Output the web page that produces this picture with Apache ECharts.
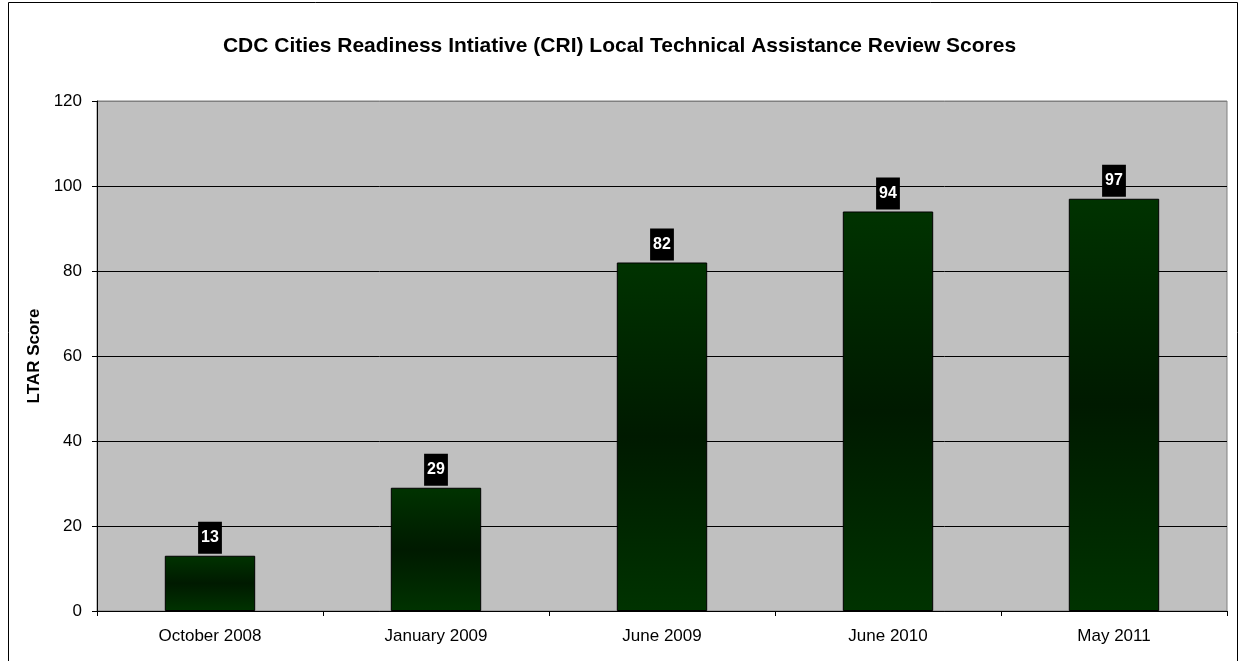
<!DOCTYPE html>
<html>
<head>
<meta charset="utf-8">
<script src="https://cdn.jsdelivr.net/npm/echarts@6/dist/echarts.min.js"></script>
<style>
  html, body { margin: 0; padding: 0; background: #fff; }
  #chart { width: 1239px; height: 661px; }
</style>
</head>
<body>
<div id="chart"></div>
<script>
// Review dates and the LTAR score recorded at each
const categories = ['October 2008', 'January 2009', 'June 2009', 'June 2010', 'May 2011'];
const scores = [13, 29, 82, 94, 97];
const yTicks = { min: 0, max: 120, interval: 20 };

const FONT = '"Liberation Sans", Arial, sans-serif';

const chart = echarts.init(document.getElementById('chart'), null, { renderer: 'canvas' });

chart.setOption({
  animation: false,
  backgroundColor: '#ffffff',
  textStyle: { fontFamily: FONT },
  title: {
    text: 'CDC Cities Readiness Intiative (CRI) Local Technical Assistance Review Scores',
    left: 'center',
    top: 31,
    textStyle: { fontFamily: FONT, fontSize: 21, fontWeight: 'bold', color: '#000' }
  },
  graphic: [{
    type: 'rect',
    shape: { x: 8.5, y: 2.5, width: 1229, height: 670 },
    style: { fill: 'none', stroke: '#000', lineWidth: 1 },
    z: -1
  }],
  grid: {
    left: 97, top: 101, right: 12, bottom: 50,
    show: true,
    backgroundColor: '#c0c0c0',
    borderColor: '#808080',
    borderWidth: 1
  },
  xAxis: {
    type: 'category',
    data: categories,
    axisLine: { lineStyle: { color: '#000', width: 1 } },
    axisTick: { show: true, alignWithLabel: false, length: 5, lineStyle: { color: '#000' } },
    axisLabel: { color: '#000', fontSize: 17, fontFamily: FONT, margin: 17 }
  },
  yAxis: {
    type: 'value',
    min: yTicks.min,
    max: yTicks.max,
    interval: yTicks.interval,
    name: 'LTAR Score',
    nameLocation: 'middle',
    nameGap: 48,
    nameTextStyle: { color: '#000', fontSize: 17, fontWeight: 'bold', fontFamily: FONT },
    axisLine: { show: true, lineStyle: { color: '#000', width: 1 } },
    axisTick: { show: true, length: 5, lineStyle: { color: '#000' } },
    axisLabel: { color: '#000', fontSize: 17, fontFamily: FONT, margin: 15 },
    splitLine: {
      show: true,
      lineStyle: { color: ['#000', '#000', '#000', '#000', '#000', '#000', '#808080'], width: 1 }
    }
  },
  series: [{
    type: 'bar',
    data: scores,
    barCategoryGap: '60%',
    itemStyle: {
      color: new echarts.graphic.LinearGradient(0, 0, 0, 1, [
        { offset: 0, color: '#003300' },
        { offset: 0.5, color: '#001a00' },
        { offset: 1, color: '#003300' }
      ]),
      borderColor: '#000',
      borderWidth: 1
    },
    label: {
      show: true,
      position: 'top',
      distance: 2,
      backgroundColor: '#000',
      color: '#fff',
      fontFamily: FONT,
      fontSize: 16,
      fontWeight: 'bold',
      lineHeight: 16,
      padding: [8, 3, 8, 3]
    }
  }]
});
</script>
</body>
</html>
